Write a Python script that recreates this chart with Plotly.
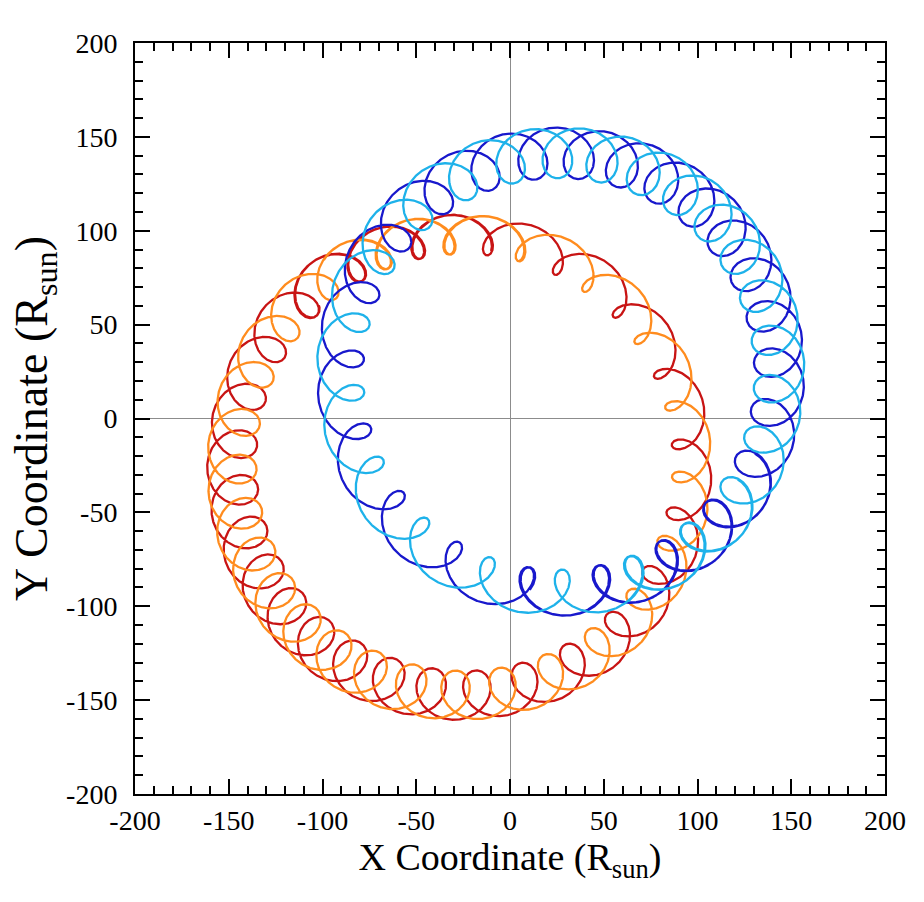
import numpy as np
import plotly.graph_objects as go

# ---- values ----
series_names = ["Red", "Orange", "Blue", "Light blue"]
guide_center_x = [-27.0, -27.0, 27.0, 27.0]      # centre of each ring (R_sun)
guide_center_y = [-26.0, -26.0, 25.0, 25.0]
outer_radius = [134.5, 134.5, 130.0, 130.0]      # outer envelope of the looping band
gyro_radius = [11.8, 11.8, 12.9, 12.9]           # mean loop (gyration) radius
gyro_modulation = [0.16, 0.16, 0.06, 0.06]       # loops shrink on the fast side
start_angle_deg = [85.0, 75.0, 256.0, 283.0]     # where each trajectory begins (about ring centre)
span_deg = [410.0, 405.0, 435.0, 400.0]          # angular extent travelled
loops_per_turn = [26.015, 26.015, 24.015, 24.015]  # loops counted in one revolution
step_modulation = [0.283, 0.283, 0.30, 0.30]     # fractional variation of loop spacing
fast_angle_deg = [44.0, 44.0, 232.0, 232.0]      # ring angle where loops are most spread out
loop_anchor_deg = [63.7, 74.0, 176.5, 185.8]     # ring angle of one observed loop

axis_ticks = [-200, -150, -100, -50, 0, 50, 100, 150, 200]

# ---- styles ----
line_colors = ["#C81414", "#FF8C1E", "#1818CC", "#1EB2EA"]


def trajectory(i):
    e = step_modulation[i]
    a = 2 * np.pi / (loops_per_turn[i] * np.sqrt(1 - e * e))
    pf = np.radians(fast_angle_deg[i])
    phi0 = np.radians(start_angle_deg[i])
    phi_end = phi0 + np.radians(span_deg[i])
    du = 2 * np.pi / 400.0

    def rate(p):
        return a / (2 * np.pi) * (1 + e * np.cos(p - pf))

    phis = [phi0]
    p = phi0
    while p < phi_end:
        k1 = rate(p)
        k2 = rate(p + 0.5 * du * k1)
        p = p + du * k2
        phis.append(p)
    phis = np.array(phis)
    u = np.arange(len(phis)) * du
    anchor = np.radians(loop_anchor_deg[i])
    while anchor < phi0:
        anchor += 2 * np.pi
    ua = np.interp(anchor, phis, u)
    psi = anchor + np.pi - ua + u
    r = gyro_radius[i] * (1 - gyro_modulation[i] * np.cos(phis - pf))
    rg = outer_radius[i] - r
    x = guide_center_x[i] + rg * np.cos(phis) + r * np.cos(psi)
    y = guide_center_y[i] + rg * np.sin(phis) + r * np.sin(psi)
    return x, y


fig = go.Figure()
for i, name in enumerate(series_names):
    x, y = trajectory(i)
    fig.add_trace(go.Scatter(x=x, y=y, mode="lines", name=name,
                             line=dict(color=line_colors[i], width=2.3),
                             showlegend=False))

font_family = "Liberation Serif, Times New Roman, serif"
axis_common = dict(
    range=[-200, 200], tickvals=axis_ticks, ticktext=[str(v) for v in axis_ticks],
    ticks="inside", ticklen=15, tickwidth=2, tickcolor="black",
    showline=True, linewidth=2, linecolor="black", mirror="allticks",
    showgrid=False, zeroline=True, zerolinecolor="#8c8c8c", zerolinewidth=1.2,
    tickfont=dict(family=font_family, size=28, color="black"),
    minor=dict(ticks="inside", ticklen=8, tickwidth=1.5, tickcolor="black", dtick=10,
               showgrid=False),
)

fig.update_layout(
    width=924, height=902,
    margin=dict(l=135, r=39, t=43, b=108),
    paper_bgcolor="white", plot_bgcolor="white",
    xaxis=dict(**axis_common, ticklabelstandoff=0,
               title=dict(text="X Coordinate (R<sub>sun</sub>)",
                          font=dict(family=font_family, size=38, color="black"),
                          standoff=8)),
    yaxis=dict(**axis_common, ticklabelstandoff=10,
               title=dict(text="Y Coordinate (R<sub>sun</sub>)",
                          font=dict(family=font_family, size=46, color="black"),
                          standoff=4)),
)

fig.write_html("out.html")
